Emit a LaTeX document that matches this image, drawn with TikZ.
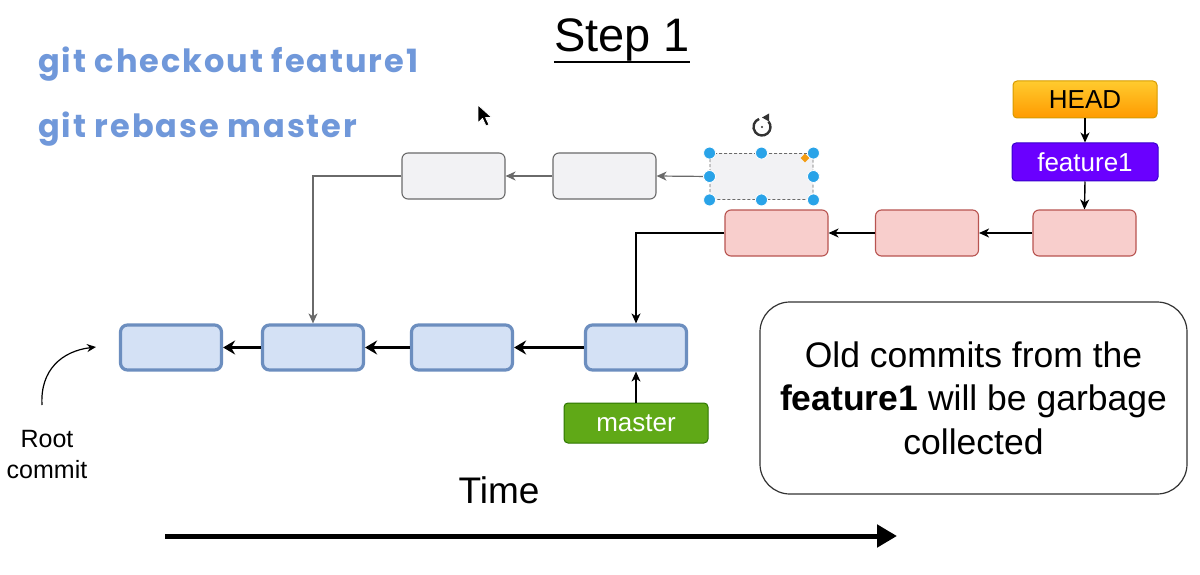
\documentclass[tikz,border=0pt]{standalone}
\usepackage{fontspec}
\setmainfont{Liberation Sans}
\newfontfamily\cmdfont{Poppins}[LetterSpace=6]
\usetikzlibrary{arrows.meta,calc,shapes.geometric}
\definecolor{cmdblue}{HTML}{7098DA}
\definecolor{grayfill}{HTML}{F2F2F4}
\definecolor{grayline}{HTML}{6A6A6A}
\definecolor{pinkfill}{HTML}{F8CECC}
\definecolor{pinkline}{HTML}{B85450}
\definecolor{bluefill}{HTML}{D4E1F5}
\definecolor{blueline}{HTML}{6C8EBF}
\definecolor{headtop}{HTML}{FFCB2E}
\definecolor{headbot}{HTML}{FF9A00}
\definecolor{headline}{HTML}{D79B00}
\definecolor{featfill}{HTML}{6A00FF}
\definecolor{featline}{HTML}{3700CC}
\definecolor{masterfill}{HTML}{60A917}
\definecolor{masterline}{HTML}{2D7600}
\definecolor{handle}{HTML}{29A3E8}
\definecolor{diam}{HTML}{F39C12}
\tikzset{
  commit/.style={draw, rounded corners=6pt, minimum width=103pt, minimum height=46pt, inner sep=0pt},
  graycommit/.style={commit, fill=grayfill, draw=grayline, line width=1.1pt},
  pinkcommit/.style={commit, fill=pinkfill, draw=pinkline, line width=1.1pt},
  bluecommit/.style={commit, fill=bluefill, draw=blueline, line width=3.2pt, rounded corners=7pt, minimum width=101pt, minimum height=45pt},
  label/.style={rounded corners=4pt, inner sep=0pt, line width=1pt, font=\fontsize{26}{30}\selectfont},
  garrow/.style={draw=grayline, line width=1.2pt, -{Stealth[length=10pt,width=9pt,inset=3pt]}},
  barrow/.style={draw=black, line width=1.4pt, -{Stealth[length=10pt,width=9pt,inset=3pt]}},
  thickarrow/.style={draw=black, line width=3.5pt, -{Stealth[length=12pt,width=14pt,inset=4pt]}},
  cmd/.style={anchor=base west, inner sep=0pt, text=cmdblue, font=\cmdfont\bfseries\fontsize{32}{32}\selectfont},
  selhandle/.style={circle, fill=handle, draw=white, line width=0.8pt, minimum size=12pt, inner sep=0pt}
}
\begin{document}
\begin{tikzpicture}[x=1pt,y=-1pt]
\useasboundingbox[fill=white] (0,0) rectangle (1200,575);

% title
\node[anchor=base, inner sep=0pt, font=\fontsize{47}{52}\selectfont] (title) at (622,52) {Step 1};
\draw[line width=2.2pt] ($(title.base west)+(0,10)$) -- ($(title.base east)+(0,10)$);

% commands
\node[cmd] (cmd1) at (38,73) {git checkout feature1};
\node[cmd] (cmd2) at (38,138) {git rebase master};

% gray (old) commits
\node[graycommit] (G1) at (453.5,176) {};
\node[graycommit] (G2) at (604.5,176) {};
\node[graycommit, densely dashed, line width=0.9pt] (G3) at (761.5,176.5) {};

% pink commits
\node[pinkcommit] (P1) at (776.5,233) {};
\node[pinkcommit] (P2) at (927,233) {};
\node[pinkcommit] (P3) at (1084.5,233) {};

% blue commits
\node[bluecommit] (B1) at (171,347.5) {};
\node[bluecommit] (B2) at (313,347.5) {};
\node[bluecommit] (B3) at (462,347.5) {};
\node[bluecommit] (B4) at (636,347.5) {};

% labels
\node[label, draw=headline, top color=headtop, bottom color=headbot, minimum width=144pt, minimum height=37pt] (HEAD) at (1085,99.5) {HEAD};
\node[label, fill=featfill, draw=featline, text=white, minimum width=146pt, minimum height=38pt] (feat) at (1085,162) {feature1};
\node[label, fill=masterfill, draw=masterline, text=white, minimum width=144pt, minimum height=40pt] (master) at (636,423) {master};

% connectors
\draw[garrow] (G3.west) -- (G2.east);
\draw[garrow] (G2.west) -- (G1.east);
\draw[garrow] (G1.west) -| (B2.north);
\draw[barrow] (P3.west) -- (P2.east);
\draw[barrow] (P2.west) -- (P1.east);
\draw[barrow] (P1.west) -| (B4.north);
\draw[thickarrow] (B4.west) -- (B3.east);
\draw[thickarrow] (B3.west) -- (B2.east);
\draw[thickarrow] (B2.west) -- (B1.east);
\draw[barrow] (HEAD.south) -- (feat.north);
\draw[barrow] (feat.south) -- (P3.north);
\draw[barrow] (master.north) -- (B4.south);

% root commit
\node[align=center, inner sep=0pt, font=\fontsize{25}{31}\selectfont] (root) at (47,455) {Root\\commit};
\coordinate (rc0) at (42,405);
\coordinate (rc1) at (96,347);
\draw[line width=1.2pt, -{Stealth[length=9pt,width=8pt,inset=3pt]}] (rc0) .. controls (40,370) and (62,351) .. (rc1);

% note
\node[draw=black!80, line width=1.2pt, rounded corners=30pt, minimum width=427pt, minimum height=192pt, align=center, font=\fontsize{35.5}{43.5}\selectfont] (note) at (973.5,398) {Old commits from the\\\textbf{feature1} will be garbage\\collected};

% time
\node[inner sep=0pt, font=\fontsize{37}{42}\selectfont] (time) at (499,490) {Time};
\coordinate (t0) at (165,536);
\coordinate (t1) at (897,536);
\draw[line width=5pt, -{Triangle[length=20pt,width=22pt]}] (t0) -- (t1);

% selection handles on G3
\foreach \a in {north west,north,north east,west,east,south west,south,south east}
  \node[selhandle] at (G3.\a) {};
\node[diamond, fill=diam, minimum size=9pt, inner sep=0pt] (dia) at (805,158) {};

% rotate icon
\coordinate (rot) at (762,127);
\draw[line width=2.4pt, black!80] ($(rot)+(6.5,-5.5)$) arc[start angle=40, end angle=-250, radius=8.5pt];
\fill[black!80] ($(rot)+(0,-9.5)$) -- ++(7,-4) -- ++(0,8) -- cycle;
\fill[black!80] (rot) circle (1.2pt);

% mouse cursor
\coordinate (cur) at (478,105);
\draw[fill=black, draw=white, line width=0.8pt, line join=round] (cur) -- ++(0,18) -- ++(4.5,-4.5) -- ++(3.5,7.5) -- ++(3,-1.3) -- ++(-3.4,-7.2) -- ++(6.2,0) -- cycle;
\end{tikzpicture}
\end{document}
